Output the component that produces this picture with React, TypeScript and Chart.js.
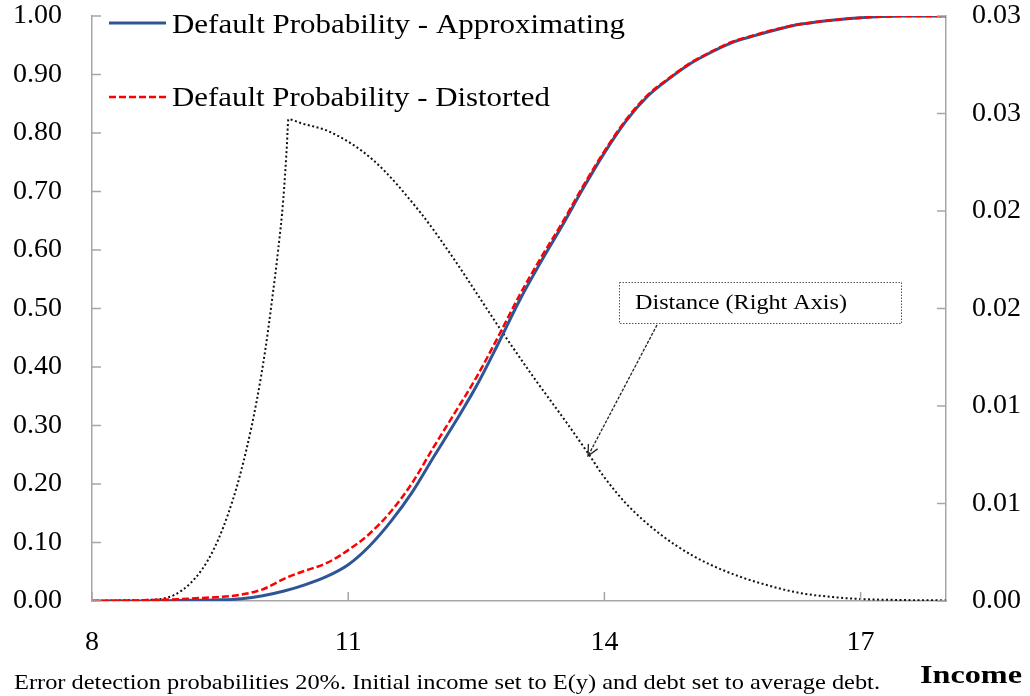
import { useEffect, useRef } from "react";
import { Chart, registerables } from "chart.js";

Chart.register(...registerables);

// ---------- DATA ----------
const approxIncome = [8.0, 8.5, 9.0, 9.5, 9.75, 10.0, 10.25, 10.5, 10.75, 11.0, 11.25, 11.5, 11.75, 12.0, 12.25, 12.5, 12.75, 13.0, 13.25, 13.5, 13.75, 14.0, 14.25, 14.5, 14.75, 15.0, 15.25, 15.5, 15.75, 16.0, 16.25, 16.5, 16.75, 17.0, 17.25, 17.5, 18.0];
const approxProb = [0.0, 0.0, 0.001, 0.002, 0.004, 0.009, 0.017, 0.028, 0.042, 0.062, 0.094, 0.136, 0.186, 0.246, 0.305, 0.367, 0.438, 0.512, 0.578, 0.64, 0.705, 0.766, 0.82, 0.862, 0.892, 0.918, 0.938, 0.955, 0.966, 0.976, 0.985, 0.99, 0.994, 0.997, 0.999, 1.0, 1.0];

const distortIncome = [8.0, 8.5, 9.0, 9.25, 9.5, 9.75, 10.0, 10.25, 10.4, 10.5, 10.75, 11.0, 11.25, 11.5, 11.75, 12.0, 12.25, 12.5, 12.75, 13.0, 13.25, 13.5, 13.75, 14.0, 14.25, 14.5, 14.75, 15.0, 15.25, 15.5, 15.75, 16.0, 16.25, 16.5, 16.75, 17.0, 17.25, 17.5, 18.0];
const distortProb = [0.0, 0.001, 0.003, 0.005, 0.007, 0.011, 0.02, 0.038, 0.047, 0.052, 0.065, 0.087, 0.115, 0.153, 0.202, 0.263, 0.322, 0.382, 0.45, 0.521, 0.585, 0.645, 0.709, 0.769, 0.822, 0.864, 0.893, 0.919, 0.939, 0.956, 0.967, 0.977, 0.985, 0.99, 0.994, 0.997, 0.999, 1.0, 1.0];

const distanceIncome = [8.0, 8.5, 8.8, 9.15, 9.42, 9.65, 9.81, 9.93, 10.03, 10.11, 10.18, 10.24, 10.28, 10.3, 10.45, 10.79, 11.29, 11.84, 12.23, 12.54, 12.78, 13.16, 13.56, 13.83, 13.98, 14.26, 14.65, 15.04, 15.44, 15.82, 16.29, 16.68, 17.0, 17.5, 18.0];
const distanceValue = [0.0, 0.00005, 0.0001, 0.0009, 0.0026, 0.0052, 0.0078, 0.0103, 0.0129, 0.0155, 0.018, 0.0206, 0.0232, 0.0247, 0.0245, 0.02405, 0.02262, 0.01995, 0.01759, 0.01554, 0.01395, 0.01154, 0.00913, 0.00744, 0.00646, 0.00497, 0.00344, 0.00231, 0.00149, 0.00092, 0.00041, 0.0002, 0.0001, 0.00005, 0.00003];

const xTickValues = [8, 11, 14, 17];
const leftTickValues = [0, 0.1, 0.2, 0.3, 0.4, 0.5, 0.6, 0.7, 0.8, 0.9, 1.0];
const leftTickLabels = ["0.00", "0.10", "0.20", "0.30", "0.40", "0.50", "0.60", "0.70", "0.80", "0.90", "1.00"];
const rightTickValues = [0, 0.005, 0.01, 0.015, 0.02, 0.025, 0.03];
const rightTickLabels = ["0.00", "0.01", "0.01", "0.02", "0.02", "0.03", "0.03"];

const seriesLabels = ["Default Probability - Approximating", "Default Probability - Distorted", "Distance"];
const annotationText = "Distance (Right Axis)";
const xAxisTitle = "Income";
const footnote = "Error detection probabilities 20%. Initial income set to E(y) and debt set to average debt.";

// ---------- STYLE ----------
const FONT = "'Liberation Serif', 'Times New Roman', serif";
const AXIS_COLOR = "#a6a6a6";
const BLUE = "#2F5597";
const RED = "#FF0000";

function drawScaledText(ctx: CanvasRenderingContext2D, text: string, x: number, y: number, font: string, width: number) {
  ctx.save();
  ctx.font = font;
  const w = ctx.measureText(text).width;
  ctx.translate(x, y);
  ctx.scale(width / w, 1);
  ctx.textAlign = "left";
  ctx.textBaseline = "alphabetic";
  ctx.fillStyle = "#000";
  ctx.fillText(text, 0, 0);
  ctx.restore();
}

const decorPlugin = {
  id: "decor",
  afterDraw(chart: any) {
    const ctx: CanvasRenderingContext2D = chart.ctx;
    const { left, right, bottom } = chart.chartArea;
    const sx = chart.scales.x;
    const sy = chart.scales.y;
    const sy1 = chart.scales.y1;
    ctx.save();
    // inward tick marks
    ctx.strokeStyle = AXIS_COLOR;
    ctx.lineWidth = 1.5;
    ctx.beginPath();
    sy.ticks.forEach((t: any) => {
      const p = sy.getPixelForValue(t.value);
      ctx.moveTo(left, p);
      ctx.lineTo(left + 9, p);
    });
    sy1.ticks.forEach((t: any) => {
      const p = sy1.getPixelForValue(t.value);
      ctx.moveTo(right, p);
      ctx.lineTo(right - 9, p);
    });
    sx.ticks.forEach((t: any) => {
      const p = sx.getPixelForValue(t.value);
      ctx.moveTo(p, bottom);
      ctx.lineTo(p, bottom - 9);
    });
    ctx.stroke();

    // legend (inside plot, top-left)
    const ds = chart.data.datasets;
    const legendRows = [
      { y: 23, base: 33 },
      { y: 97, base: 106 },
    ];
    legendRows.forEach((row, i) => {
      const d = ds[i];
      ctx.save();
      ctx.strokeStyle = d.borderColor;
      ctx.lineWidth = d.borderWidth;
      ctx.setLineDash(d.borderDash || []);
      ctx.beginPath();
      ctx.moveTo(109, row.y);
      ctx.lineTo(166, row.y);
      ctx.stroke();
      ctx.restore();
      drawScaledText(ctx, d.label, 172, row.base, `27px ${FONT}`, i === 0 ? 453 : 378);
    });

    // annotation box
    ctx.save();
    ctx.fillStyle = "#fff";
    ctx.fillRect(619, 282, 282, 41);
    ctx.strokeStyle = "#555";
    ctx.lineWidth = 1;
    ctx.setLineDash([1.5, 1.5]);
    ctx.strokeRect(619.5, 282.5, 282, 41);
    ctx.restore();
    drawScaledText(ctx, annotationText, 635, 309, `20px ${FONT}`, 212);

    // arrow
    ctx.save();
    ctx.strokeStyle = "#222";
    ctx.lineWidth = 1.3;
    ctx.setLineDash([3, 1.5]);
    const x0 = 657, y0 = 325, x1 = 588, y1 = 456;
    ctx.beginPath();
    ctx.moveTo(x0, y0);
    ctx.lineTo(x1, y1);
    ctx.stroke();
    ctx.setLineDash([]);
    const ang = Math.atan2(y1 - y0, x1 - x0);
    const hl = 12;
    ctx.beginPath();
    ctx.moveTo(x1 + hl * Math.cos(ang + Math.PI - 0.45), y1 + hl * Math.sin(ang + Math.PI - 0.45));
    ctx.lineTo(x1, y1);
    ctx.lineTo(x1 + hl * Math.cos(ang + Math.PI + 0.45), y1 + hl * Math.sin(ang + Math.PI + 0.45));
    ctx.stroke();
    ctx.restore();

    // axis title & footnote
    drawScaledText(ctx, xAxisTitle, 920, 683, `bold 26px ${FONT}`, 102);
    drawScaledText(ctx, footnote, 14, 689, `21px ${FONT}`, 866);
    ctx.restore();
  },
};

const zeroVerticalPadding = (s: any) => {
  s.paddingTop = 0;
  s.paddingBottom = 0;
};

export default function App() {
  const canvasRef = useRef<HTMLCanvasElement | null>(null);

  useEffect(() => {
    const canvas = canvasRef.current;
    if (!canvas) return;
    const chart = new Chart(canvas, {
      type: "line",
      data: {
        datasets: [
          {
            label: seriesLabels[0],
            data: approxIncome.map((x, i) => ({ x, y: approxProb[i] })),
            borderColor: BLUE,
            borderWidth: 3,
            pointRadius: 0,
            cubicInterpolationMode: "monotone",
            yAxisID: "y",
            order: 1,
          },
          {
            label: seriesLabels[1],
            data: distortIncome.map((x, i) => ({ x, y: distortProb[i] })),
            borderColor: RED,
            borderWidth: 2.5,
            borderDash: [7, 3],
            pointRadius: 0,
            cubicInterpolationMode: "monotone",
            yAxisID: "y",
            order: 0,
          },
          {
            label: seriesLabels[2],
            data: distanceIncome.map((x, i) => ({ x, y: distanceValue[i] })),
            borderColor: "#111",
            borderWidth: 2,
            borderDash: [2, 2.5],
            pointRadius: 0,
            cubicInterpolationMode: "monotone",
            yAxisID: "y1",
            order: 2,
          },
        ],
      },
      options: {
        animation: false,
        responsive: false,
        devicePixelRatio: 1,
        layout: { padding: { top: 16, left: 0, right: 0, bottom: 0 } },
        plugins: {
          legend: { display: false },
          tooltip: { enabled: false },
          title: { display: false },
        },
        scales: {
          x: {
            type: "linear",
            min: 8,
            max: 18,
            afterBuildTicks: (s: any) => {
              s.ticks = xTickValues.map((v) => ({ value: v }));
            },
            afterFit: (s: any) => {
              s.height = 95;
              s.paddingLeft = 0;
              s.paddingRight = 0;
            },
            grid: { display: false, drawTicks: false },
            border: { display: true, color: AXIS_COLOR, width: 1.5 },
            ticks: {
              padding: 25,
              color: "#000",
              font: { family: FONT, size: 28 },
              maxRotation: 0,
              autoSkip: false,
            },
          },
          y: {
            type: "linear",
            position: "left",
            min: 0,
            max: 1,
            afterBuildTicks: (s: any) => {
              s.ticks = leftTickValues.map((v) => ({ value: v }));
            },
            afterFit: (s: any) => {
              s.width = 92;
              zeroVerticalPadding(s);
            },
            grid: { display: false, drawTicks: false },
            border: { display: true, color: AXIS_COLOR, width: 1.5 },
            ticks: {
              padding: 30,
              color: "#000",
              font: { family: FONT, size: 28 },
              callback: (_v: any, i: number) => leftTickLabels[i],
            },
          },
          y1: {
            type: "linear",
            position: "right",
            min: 0,
            max: 0.03,
            afterBuildTicks: (s: any) => {
              s.ticks = rightTickValues.map((v) => ({ value: v }));
            },
            afterFit: (s: any) => {
              s.width = 84;
              zeroVerticalPadding(s);
            },
            grid: { display: false, drawTicks: false },
            border: { display: true, color: AXIS_COLOR, width: 1.5 },
            ticks: {
              padding: 26,
              color: "#000",
              font: { family: FONT, size: 28 },
              callback: (_v: any, i: number) => rightTickLabels[i],
            },
          },
        },
      },
      plugins: [decorPlugin],
    });
    return () => chart.destroy();
  }, []);

  return (
    <div style={{ position: "absolute", left: 0, top: 0, width: 1030, height: 696, background: "#fff" }}>
      <canvas ref={canvasRef} width={1030} height={696} style={{ display: "block" }} />
    </div>
  );
}
